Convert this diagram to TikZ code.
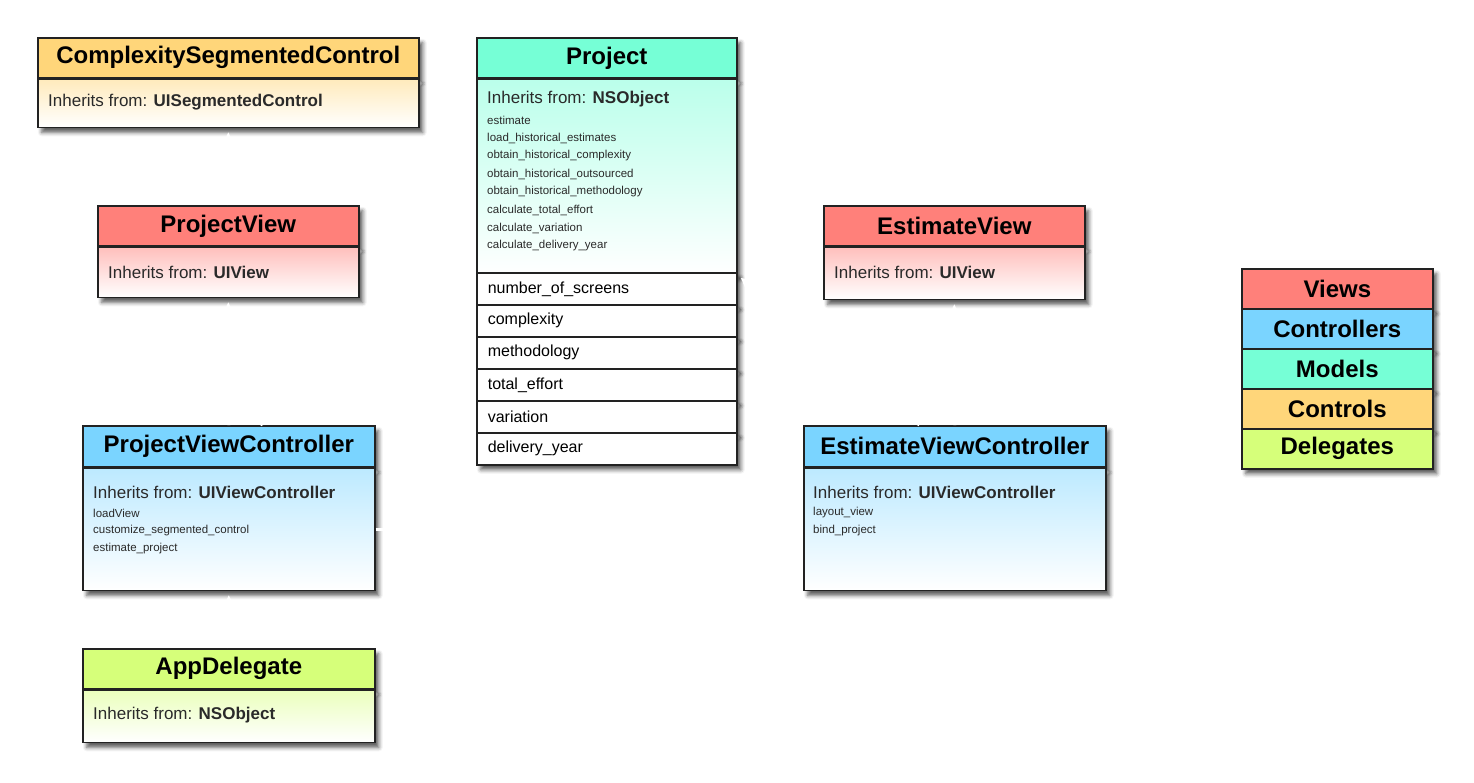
\documentclass[tikz,border=0pt]{standalone}
\usepackage{fontspec}
\setmainfont{Liberation Sans}
\usetikzlibrary{shadows.blur,arrows.meta}
\definecolor{viewcol}{HTML}{FF807A}
\definecolor{ctrlcol}{HTML}{7AD4FF}
\definecolor{modelcol}{HTML}{76FFD6}
\definecolor{controlcol}{HTML}{FFD67A}
\definecolor{delcol}{HTML}{D6FF7A}
\definecolor{linecol}{HTML}{222222}
\definecolor{textcol}{HTML}{2A2A2A}
\tikzset{
  dropsh/.style={blur shadow={shadow xshift=4pt, shadow yshift=-5pt, shadow blur radius=4pt, shadow opacity=65}},
  head/.style={draw=linecol, line width=1.6pt, fill=#1, dropsh, anchor=north west, inner sep=0pt, minimum height=40pt, font=\fontsize{24}{28}\selectfont\bfseries},
  body/.style={draw=linecol, line width=1.6pt, top color=#1!50!white, bottom color=white, dropsh, anchor=north west, inner sep=0pt},
  inh/.style={anchor=west, inner sep=0pt, text=textcol, font=\fontsize{17}{20}\selectfont},
  meth/.style={anchor=west, inner sep=0pt, text=textcol, font=\fontsize{11.5}{14}\selectfont},
  attr/.style={draw=linecol, line width=1.6pt, fill=white, dropsh, anchor=north west, inner xsep=11pt, inner ysep=0pt, text width=238pt, align=left, minimum height=32pt, font=\fontsize{16}{19}\selectfont},
  legendrow/.style={draw=linecol, line width=1.6pt, fill=#1, dropsh, anchor=north west, inner sep=0pt, minimum width=191pt, minimum height=40pt, font=\fontsize{24}{28}\selectfont\bfseries},
  link/.style={draw=white, line width=3pt, -{Triangle[length=10pt,width=9pt]}, shorten >=4pt}
}
\begin{document}
\begin{tikzpicture}[x=1pt, y=-1pt]
	\useasboundingbox (0,0) rectangle (1474,782);
	% left column
	\node[head=controlcol, minimum width=381pt] (csch) at (37,37) {ComplexitySegmentedControl};
	\node[body=controlcol, minimum width=381pt, minimum height=48pt] (cscb) at (csch.south west) {};
	\node[inh] (csci) at (48,102) {Inherits from: \textbf{UISegmentedControl}};
	\node[head=viewcol, minimum width=261pt] (pvh) at (97,205) {ProjectView};
	\node[body=viewcol, minimum width=261pt, minimum height=50pt] (pvb) at (pvh.south west) {};
	\node[inh] (pvi) at (108,272) {Inherits from: \textbf{UIView}};
	\node[head=ctrlcol, minimum width=292pt, minimum height=41pt] (pvch) at (82,425) {ProjectViewController};
	\node[body=ctrlcol, minimum width=292pt, minimum height=122pt] (pvcb) at (pvch.south west) {};
	\node[inh] (pvci) at (93,492) {Inherits from: \textbf{UIViewController}};
	\foreach \m [count=\i from 0] in {loadView, customize\_segmented\_control, estimate\_project}
		\node[meth] (pvcm\i) at (93,{513+18*\i}) {\m};
	\node[head=delcol, minimum width=292pt] (adh) at (82,648) {AppDelegate};
	\node[body=delcol, minimum width=292pt, minimum height=52pt] (adb) at (adh.south west) {};
	\node[inh] (adi) at (93,715) {Inherits from: \textbf{NSObject}};
	% model
	\node[head=modelcol, minimum width=260pt] (prjh) at (476,37) {Project};
	\node[body=modelcol, minimum width=260pt, minimum height=195pt] (prjb) at (prjh.south west) {};
	\node[inh] (prji) at (487,99) {Inherits from: \textbf{NSObject}};
	\foreach \m [count=\i from 0] in {estimate, load\_historical\_estimates, obtain\_historical\_complexity, obtain\_historical\_outsourced, obtain\_historical\_methodology, calculate\_total\_effort, calculate\_variation, calculate\_delivery\_year}
		\node[meth] (prjm\i) at (487,{120+18*\i}) {\m};
	\foreach \t [count=\i from 0] in {number\_of\_screens, complexity, methodology, total\_effort, variation, delivery\_year}
		\node[attr] (prjr\i) at (476,{272+32*\i}) {\t};
	% right column
	\node[head=viewcol, minimum width=261pt] (evh) at (823,205) {EstimateView};
	\node[body=viewcol, minimum width=261pt, minimum height=52pt] (evb) at (evh.south west) {};
	\node[inh] (evi) at (834,272) {Inherits from: \textbf{UIView}};
	\node[head=ctrlcol, minimum width=302pt, minimum height=41pt] (evch) at (803,425) {EstimateViewController};
	\node[body=ctrlcol, minimum width=302pt, minimum height=122pt] (evcb) at (evch.south west) {};
	\node[inh] (evci) at (813,492) {Inherits from: \textbf{UIViewController}};
	\foreach \m [count=\i from 0] in {layout\_view, bind\_project}
		\node[meth] (evcm\i) at (813,{513+18*\i}) {\m};
	% legend
	\foreach \c/\t [count=\i from 0] in {viewcol/Views, ctrlcol/Controllers, modelcol/Models, controlcol/Controls, delcol/Delegates}
		\node[legendrow=\c] (leg\i) at (1241,{268+40*\i}) {\t};
	% links
	\draw[link] (pvh.north) -- (cscb.south);
	\draw[link] (pvch.north) -- (pvb.south);
	\draw[link] (adh.north) -- (pvcb.south);
	\draw[link] (pvch.34) -- (prjb.south west);
	\draw[link] (pvcb.east) -- (evcb.west);
	\draw[link] (evch.north) -- (evb.south);
	\draw[link] (evch.149) -- (prjb.south east);
\end{tikzpicture}
\end{document}
